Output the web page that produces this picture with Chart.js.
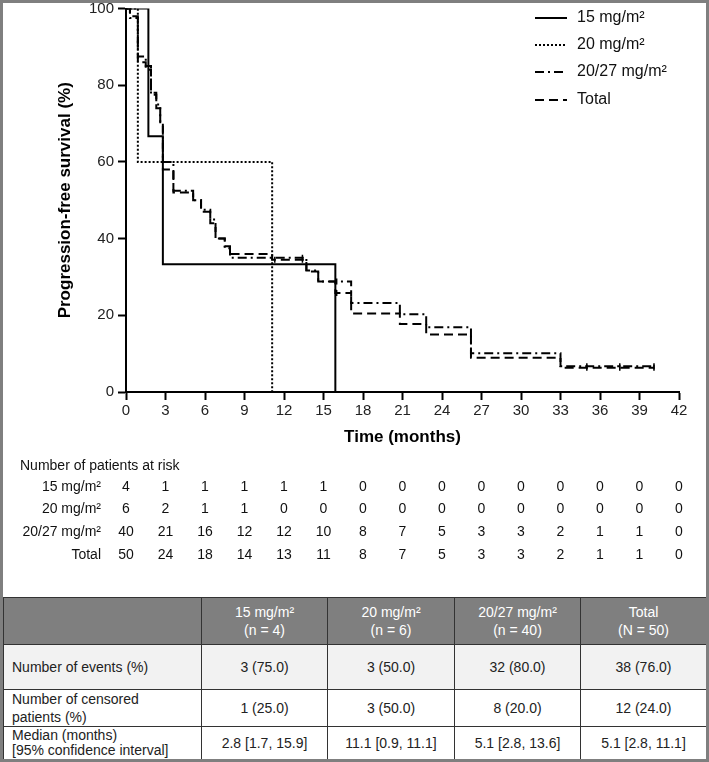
<!DOCTYPE html>
<html>
<head>
<meta charset="utf-8">
<script src="https://cdn.jsdelivr.net/npm/chart.js@4/dist/chart.umd.min.js"></script>
<style>
  body { margin: 0; background: #fff; }
  #frame { width: 709px; height: 762px; box-sizing: border-box; border: 3px solid #7f7f7f; background: #fff; overflow: hidden; }
  #plot { position: relative; width: 703px; height: 594px; }
  table { border-collapse: collapse; width: 703px; height: 162px; table-layout: fixed; font-family: "Liberation Sans", Arial, sans-serif; font-size: 14px; color: #222; }
  td { border: 1px solid #333; padding: 0; text-align: center; vertical-align: middle; line-height: 18px; }
  td.lab { text-align: left; padding-left: 8px; }
  tr.head td { background: #7f7f7f; color: #fff; }
  tr.head { height: 47px; }
  tr.r1 { height: 45px; }
  tr.r1 td { background: #f2f2f2; }
  tr.r2 { height: 37px; }
  tr.r3 { height: 33px; }
  tr.r3 td { line-height: 15px; }
  td.diag { background: #7f7f7f linear-gradient(to top right, transparent calc(50% - 1px), #111 50%, transparent calc(50% + 1px)); }
</style>
</head>
<body>
<div id="frame">
  <div id="plot"><canvas id="pfs-chart"></canvas></div>
  <table>
    <colgroup><col style="width:198px"><col style="width:126px"><col style="width:127px"><col style="width:126px"><col style="width:126px"></colgroup>
    <tr class="head"><td class="diag"></td><td>15 mg/m²<br>(n = 4)</td><td>20 mg/m²<br>(n = 6)</td><td>20/27 mg/m²<br>(n = 40)</td><td>Total<br>(N = 50)</td></tr>
    <tr class="r1"><td class="lab">Number of events (%)</td><td>3 (75.0)</td><td>3 (50.0)</td><td>32 (80.0)</td><td>38 (76.0)</td></tr>
    <tr class="r2"><td class="lab">Number of censored<br>patients (%)</td><td>1 (25.0)</td><td>3 (50.0)</td><td>8 (20.0)</td><td>12 (24.0)</td></tr>
    <tr class="r3"><td class="lab">Median (months)<br>[95% confidence interval]</td><td>2.8 [1.7, 15.9]</td><td>11.1 [0.9, 11.1]</td><td>5.1 [2.8, 13.6]</td><td>5.1 [2.8, 11.1]</td></tr>
  </table>
</div>
<script>
// Kaplan-Meier steps (months, % progression-free)
var time15 = [0, 1.7, 2.8, 15.9];
var surv15 = [100, 66.7, 33.3, 0];

var time20 = [0, 0.9, 11.1];
var surv20 = [100, 60, 0];

var time2027 = [0, 0.3, 0.9, 1.5, 1.9, 2.3, 2.6, 2.8, 3.6, 5.1, 5.7, 6.4, 6.8, 7.5, 7.9, 13.7, 14.6, 17.1, 20.8, 22.8, 26.2, 33.0, 40.1];
var surv2027 = [100, 97.5, 87.5, 85, 77.5, 75, 70, 60, 52.5, 50, 47.5, 45, 40, 37.5, 35, 31.7, 28.8, 23.2, 20.3, 16.9, 10.1, 6.7, 6.7];

var timeTotal = [0, 0.3, 0.9, 1.5, 1.9, 2.3, 2.6, 2.8, 3.6, 5.1, 5.7, 6.4, 6.8, 7.5, 7.9, 11.1, 13.7, 14.6, 15.9, 17.1, 20.8, 22.8, 26.2, 33.0, 40.1];
var survTotal = [100, 98, 86, 84, 78, 74, 70, 58, 52, 50, 47, 44, 40, 38, 36, 34.5, 31.4, 28.8, 25.8, 20.5, 17.7, 15, 8.9, 6.3, 6.3];

// censoring ticks (months)
var censor2027 = [13.4, 16.0, 35.0, 37.5, 40.1];
var censorTotal = [11.3, 13.4, 16.0, 35.0, 37.5, 40.1];

// number at risk table
var monthTicks = [0, 3, 6, 9, 12, 15, 18, 21, 24, 27, 30, 33, 36, 39, 42];
var riskLabels = ['15 mg/m²', '20 mg/m²', '20/27 mg/m²', 'Total'];
var risk15 = [4, 1, 1, 1, 1, 1, 0, 0, 0, 0, 0, 0, 0, 0, 0];
var risk20 = [6, 2, 1, 1, 0, 0, 0, 0, 0, 0, 0, 0, 0, 0, 0];
var risk2027 = [40, 21, 16, 12, 12, 10, 8, 7, 5, 3, 3, 2, 1, 1, 0];
var riskTotal = [50, 24, 18, 14, 13, 11, 8, 7, 5, 3, 3, 2, 1, 1, 0];

var FONT = '"Liberation Sans", Arial, sans-serif';

function toPoints(times, values) {
  return times.map(function (t, i) { return {x: t, y: values[i]}; });
}

// survival value of a step curve at time t
function stepAt(times, values, t) {
  var v = values[0];
  for (var i = 0; i < times.length; i++) {
    if (times[i] <= t) v = values[i];
  }
  return v;
}

function curve(label, times, values, dash) {
  return {
    label: label,
    data: toPoints(times, values),
    borderColor: '#000',
    borderWidth: 2,
    borderDash: dash,
    pointRadius: 0,
    fill: false,
    stepped: 'before'
  };
}

function censorMarks(censorTimes, times, values) {
  return {
    label: '',
    isCensor: true,
    data: censorTimes.map(function (t) { return {x: t, y: stepAt(times, values, t)}; }),
    showLine: false,
    pointStyle: 'line',
    rotation: 90,
    pointRadius: 3,
    pointBorderWidth: 1.5,
    pointBorderColor: '#000',
    borderColor: '#000'
  };
}

var extras = {
  id: 'extras',
  afterDraw: function (chart) {
    var ctx = chart.ctx;
    var xs = chart.scales.x;
    ctx.save();

    // legend, top right
    var legY = [15, 42, 69, 97];
    chart.data.datasets.filter(function (ds) { return !ds.isCensor; }).forEach(function (ds, i) {
      ctx.strokeStyle = '#000';
      ctx.lineWidth = 2;
      ctx.setLineDash(ds.borderDash || []);
      ctx.beginPath();
      ctx.moveTo(532, legY[i]);
      ctx.lineTo(564, legY[i]);
      ctx.stroke();
      ctx.setLineDash([]);
      ctx.fillStyle = '#111';
      ctx.font = '16px ' + FONT;
      ctx.textAlign = 'left';
      ctx.textBaseline = 'middle';
      ctx.fillText(ds.label, 574, legY[i]);
    });

    // number at risk
    ctx.font = '14px ' + FONT;
    ctx.fillStyle = '#111';
    ctx.textBaseline = 'middle';
    ctx.textAlign = 'left';
    ctx.fillText('Number of patients at risk', 17, 463);
    var rows = [risk15, risk20, risk2027, riskTotal];
    var rowY = [484, 506, 529, 552];
    rows.forEach(function (row, r) {
      ctx.textAlign = 'right';
      ctx.fillText(riskLabels[r], 98, rowY[r]);
      ctx.textAlign = 'center';
      row.forEach(function (n, i) {
        ctx.fillText(String(n), xs.getPixelForValue(monthTicks[i]), rowY[r]);
      });
    });
    ctx.restore();
  }
};

var chartContext = document.getElementById('pfs-chart');
var pfsChart = new Chart(chartContext, {
  type: 'line',
  data: {
    datasets: [
      curve('15 mg/m²', time15, surv15, []),
      curve('20 mg/m²', time20, surv20, [2, 2]),
      curve('20/27 mg/m²', time2027, surv2027, [9, 4, 2, 4]),
      curve('Total', timeTotal, survTotal, [9, 5]),
      censorMarks(censor2027, time2027, surv2027),
      censorMarks(censorTotal, timeTotal, survTotal)
    ]
  },
  options: {
    responsive: true,
    maintainAspectRatio: false,
    animation: false,
    layout: { padding: { top: 4, right: 27, bottom: 149, left: 0 } },
    plugins: { legend: { display: false }, tooltip: { enabled: false } },
    scales: {
      x: {
        type: 'linear',
        min: 0,
        max: 42,
        afterFit: function (axis) { axis.height = 56; },
        afterBuildTicks: function (axis) { axis.ticks = monthTicks.map(function (v) { return {value: v}; }); },
        ticks: { font: { size: 15, family: FONT }, color: '#222', padding: 2, maxRotation: 0 },
        grid: { drawOnChartArea: false, tickLength: 8, tickWidth: 2, color: '#000' },
        border: { color: '#000', width: 2 },
        title: { display: true, text: 'Time (months)', font: { size: 17, weight: 'bold', family: FONT }, color: '#000', padding: { top: 0, bottom: 0 } }
      },
      y: {
        min: 0,
        max: 100,
        afterFit: function (axis) { axis.width = 123; axis.paddingTop = 0; axis.paddingBottom = 0; },
        ticks: { stepSize: 20, font: { size: 15, family: FONT }, color: '#222', padding: 4 },
        grid: { drawOnChartArea: false, tickLength: 8, tickWidth: 2, color: '#000' },
        border: { color: '#000', width: 2 },
        title: { display: true, text: 'Progression-free survival (%)', font: { size: 17, weight: 'bold', family: FONT }, color: '#000', padding: { top: 52, bottom: 0 } }
      }
    }
  },
  plugins: [extras]
});
</script>
</body>
</html>
